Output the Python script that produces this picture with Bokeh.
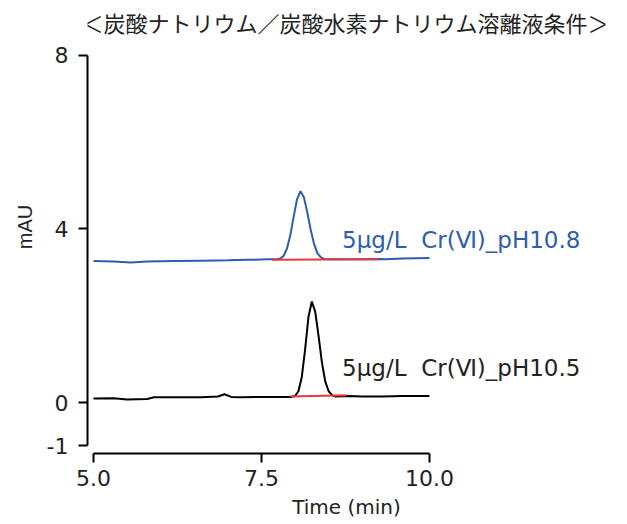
from bokeh.plotting import figure
from bokeh.models import Range1d, FixedTicker, NumeralTickFormatter
from bokeh.core.properties import value
from bokeh.embed import file_html
from bokeh.resources import INLINE

TITLE = "＜炭酸ナトリウム／炭酸水素ナトリウム溶離液条件＞"
X_LABEL = "Time (min)"
Y_LABEL = "mAU"
X_TICKS = [5.0, 7.5, 10.0]
Y_TICKS = [-1, 0, 4, 8]

# pH10.8 trace (blue)
t_ph108 = [5.0, 5.3, 5.55, 5.8, 6.2, 6.6, 7.0, 7.3, 7.6, 7.7, 7.78, 7.83, 7.88, 7.93,
           7.98, 8.03, 8.08, 8.13, 8.18, 8.23, 8.28, 8.33, 8.38, 8.43, 8.55, 8.8,
           9.0, 9.25, 9.35, 9.6, 10.0]
y_ph108 = [3.26, 3.25, 3.23, 3.25, 3.26, 3.27, 3.28, 3.29, 3.30, 3.30, 3.32, 3.38, 3.55, 3.86,
           4.29, 4.69, 4.87, 4.74, 4.40, 4.00, 3.67, 3.45, 3.35, 3.31, 3.30, 3.30,
           3.30, 3.31, 3.30, 3.32, 3.33]
base_t_ph108 = [7.66, 9.24]
base_y_ph108 = [3.29, 3.30]

# pH10.5 trace (black)
t_ph105 = [5.0, 5.3, 5.5, 5.8, 5.9, 6.2, 6.6, 6.85, 6.95, 7.05, 7.2, 7.5, 7.8, 7.95,
           8.0, 8.05, 8.1, 8.15, 8.2, 8.25, 8.3, 8.35, 8.4, 8.45, 8.5, 8.55, 8.6,
           8.8, 9.0, 9.3, 9.6, 10.0]
y_ph105 = [0.09, 0.10, 0.07, 0.08, 0.12, 0.12, 0.12, 0.14, 0.19, 0.13, 0.12, 0.13, 0.13, 0.13,
           0.15, 0.26, 0.59, 1.23, 1.98, 2.33, 2.09, 1.53, 0.92, 0.48, 0.26, 0.17, 0.14,
           0.15, 0.14, 0.14, 0.15, 0.15]
base_t_ph105 = [7.93, 8.77]
base_y_ph105 = [0.14, 0.17]

LABELS = ["5μg/L\u00a0\u00a0Cr(Ⅵ)_pH10.8", "5μg/L\u00a0\u00a0Cr(Ⅵ)_pH10.5"]

BLUE = "#2e5caf"
RED = "#e8383d"
TEXT = "#222222"
LAT_FONT = "DejaVu Sans"
JP_FONT = "Noto Sans CJK JP"

p = figure(width=627, height=524, output_backend="svg", toolbar_location=None,
           x_range=Range1d(4.911, 12.62), y_range=Range1d(-1.175, 9.267),
           min_border_left=87, min_border_right=22, min_border_top=0,
           min_border_bottom=71)
p.outline_line_color = None
p.grid.visible = False

xa = p.xaxis[0]
xa.bounds = (5, 10)
xa.ticker = FixedTicker(ticks=X_TICKS)
xa.formatter = NumeralTickFormatter(format="0.0")
xa.axis_label = X_LABEL
ya = p.yaxis[0]
ya.bounds = (-1, 8)
ya.ticker = FixedTicker(ticks=Y_TICKS)
ya.major_label_overrides = {-1: "-1"}
ya.axis_label = Y_LABEL

for ax in (xa, ya):
    ax.axis_line_width = 2
    ax.axis_line_color = "black"
    ax.major_tick_line_width = 2
    ax.major_tick_line_color = "black"
    ax.major_tick_out = 9
    ax.major_tick_in = 0
    ax.minor_tick_line_color = None
    ax.major_label_text_font = LAT_FONT
    ax.major_label_text_font_size = "22px"
    ax.major_label_text_color = TEXT
    ax.axis_label_text_font_style = "normal"
    ax.axis_label_text_color = TEXT
    ax.axis_label_standoff = 6

xa.major_label_standoff = 7
ya.major_label_standoff = 10
xa.axis_label_text_font = LAT_FONT
xa.axis_label_text_font_size = "20px"
ya.axis_label_text_font = "Liberation Sans"
ya.axis_label_text_font_size = "20px"
ya.axis_label_standoff = 8

p.line(t_ph108, y_ph108, line_color=BLUE, line_width=2)
p.line(t_ph105, y_ph105, line_color="black", line_width=2)
p.line(base_t_ph108, base_y_ph108, line_color=RED, line_width=2)
p.line(base_t_ph105, base_y_ph105, line_color=RED, line_width=2)

p.text(x=[8.7], y=[3.74], text=[LABELS[0]], text_color=BLUE,
       text_font=value(LAT_FONT), text_font_size="23px", text_baseline="middle")
p.text(x=[8.7], y=[0.79], text=[LABELS[1]], text_color=TEXT,
       text_font=value(LAT_FONT), text_font_size="23px", text_baseline="middle")

# chart title drawn inside the (extended) frame
p.text(x=[8.75], y=[8.76], text=[TITLE], text_color=TEXT,
       text_font=value(JP_FONT), text_font_size="22px",
       text_align="center", text_baseline="middle")

open("out.html", "w").write(file_html(p, INLINE))
